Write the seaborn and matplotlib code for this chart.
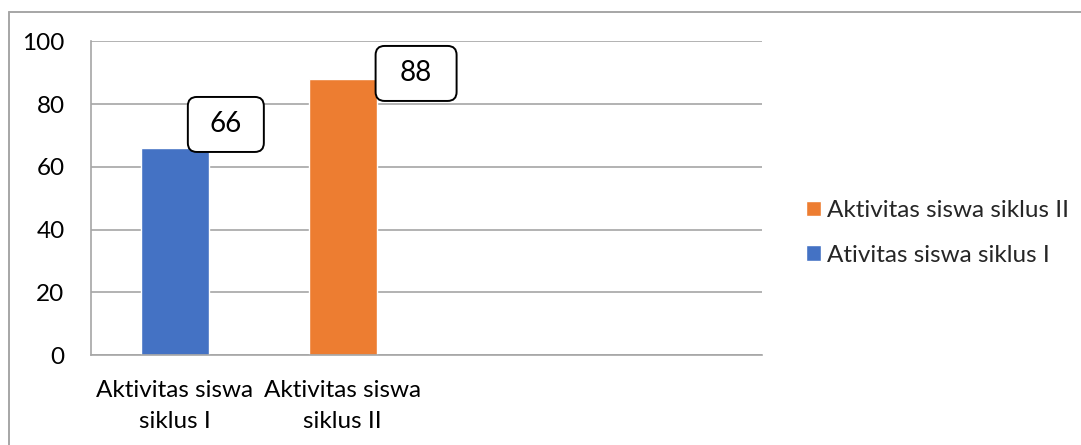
import matplotlib
matplotlib.use("Agg")
import matplotlib.pyplot as plt
import matplotlib.transforms as mtransforms
from matplotlib.patches import FancyBboxPatch
from matplotlib.lines import Line2D
import seaborn as sns
import pandas as pd

# ---- data ----
categories = ["Aktivitas siswa\nsiklus I", "Aktivitas siswa\nsiklus II"]
empty_slots = ["slot 3", "slot 4"]
series = ["Ativitas siswa siklus I", "Aktivitas siswa siklus II"]
values = [66, 88]
tick_labels = ["Aktivitas siswa\nsiklus I", "Aktivitas siswa\nsiklus II", "", ""]
y_ticks = [0, 20, 40, 60, 80, 100]

# ---- styles ----
colors = {"Ativitas siswa siklus I": "#4472C4", "Aktivitas siswa siklus II": "#ED7D31"}
label_offsets_px = [(17, 23.5), (39.5, 5.5)]   # box centre relative to bar top-right
label_box_px = [(76, 55), (81, 55)]
grid_col = "#A6A6A6"
fs = 17.5

sns.set_theme(style="white")
plt.rcParams["font.family"] = ["Lato", "DejaVu Sans"]

W, H, DPI = 1081, 445, 100
fig = plt.figure(figsize=(W / DPI, H / DPI), dpi=DPI)
ax = fig.add_axes([91 / W, 1 - 355 / H, (762 - 91) / W, (355 - 41.3) / H])

df = pd.DataFrame({"category": categories, "series": series, "value": values})
order = categories + empty_slots
sns.barplot(data=df, x="category", y="value", hue="series", order=order,
            hue_order=series, palette=colors, dodge=False, width=0.405,
            saturation=1, ax=ax)

ax.set_xlim(-0.5, len(order) - 0.5)
ax.set_ylim(0, 100)
ax.set_yticks(y_ticks)
ax.set_xticks(range(len(order)))
ax.set_xticklabels(tick_labels, fontsize=fs, color="black", linespacing=1.58)
ax.set_xticks([i - 0.5 for i in range(len(order) + 1)], minor=True)
ax.tick_params(axis="x", which="major", length=0, pad=18)
ax.tick_params(axis="x", which="minor", length=8, width=1.2, color=grid_col, direction="out")
ax.tick_params(axis="y", which="major", length=8, width=1.2, color=grid_col,
               direction="out", labelsize=fs, labelcolor="black", pad=11)
ax.set_xlabel("")
ax.set_ylabel("")
ax.yaxis.grid(True, color=grid_col, linewidth=1.2)
ax.set_axisbelow(True)
for s in ["top", "right"]:
    ax.spines[s].set_visible(False)
for s in ["left", "bottom"]:
    ax.spines[s].set_color(grid_col)
    ax.spines[s].set_linewidth(1.2)

# data label callouts
bars = [p for p in ax.patches if p.get_height() > 0]
bars.sort(key=lambda p: p.get_x())
for bar, (dx, dy), (bw, bh) in zip(bars, label_offsets_px, label_box_px):
    xr = bar.get_x() + bar.get_width()
    yt = bar.get_height()
    tr = mtransforms.Affine2D() + mtransforms.ScaledTranslation(xr, yt, ax.transData)
    box = FancyBboxPatch((dx - bw / 2, dy - bh / 2), bw, bh,
                         boxstyle="round,pad=0,rounding_size=9",
                         fc="white", ec="black", lw=1.4, transform=tr,
                         clip_on=False, zorder=5)
    ax.add_patch(box)
    ax.text(dx, dy, f"{int(round(yt))}", transform=tr, ha="center", va="center",
            fontsize=20, color="black", zorder=6)

# legend (reversed order as in the reference)
handles, labels = ax.get_legend_handles_labels()
if ax.get_legend() is not None:
    ax.get_legend().remove()
fig.legend(handles[::-1], labels[::-1], loc="center left",
           bbox_to_anchor=(806 / W, 1 - 233 / H), frameon=False,
           fontsize=fs, handlelength=0.62, handleheight=0.62,
           handletextpad=0.25, labelspacing=0.98, borderpad=0, borderaxespad=0)

# outer chart frame (left and top edges visible)
fig.add_artist(Line2D([9 / W, 9 / W], [0, 1 - 12 / H], transform=fig.transFigure,
                      color="#A6A6A6", lw=1.4))
fig.add_artist(Line2D([9 / W, 1], [1 - 12 / H, 1 - 12 / H], transform=fig.transFigure,
                      color="#A6A6A6", lw=1.4))

fig.savefig("out.png", dpi=DPI, facecolor="white")
